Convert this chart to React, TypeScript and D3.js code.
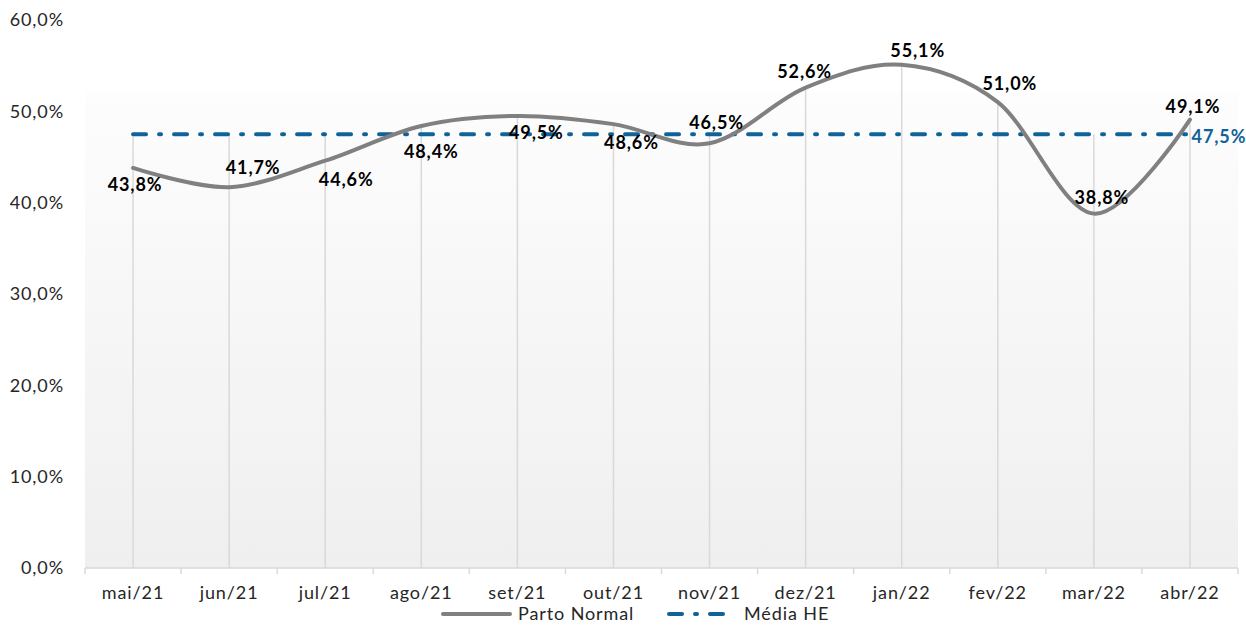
import * as d3 from "d3";

const months = ["mai/21", "jun/21", "jul/21", "ago/21", "set/21", "out/21", "nov/21", "dez/21", "jan/22", "fev/22", "mar/22", "abr/22"];
const partoNormal = [43.8, 41.7, 44.6, 48.4, 49.5, 48.6, 46.5, 52.6, 55.1, 51.0, 38.8, 49.1];
const mediaHE = 47.5;
const yTicks = [0, 10, 20, 30, 40, 50, 60];
// label offsets (dx, dy) relative to each point
const labelOffsets: [number, number][] = [
  [2, 17], [24, -19], [21, 19], [10, 26], [19, 17], [18, 19],
  [7, -21], [-1, -16], [16, -14], [12, -19], [8, -16], [3, -13],
];

const W = 1246;
const H = 625;
const margin = { left: 85, right: 8, top: 20, bottom: 57 };
const FONT = "Lato, 'Open Sans', sans-serif";
const FS = 18;
const LS = 0.9;
const BLUE = "#0f6399";
const GRAY_LINE = "#808080";
const TXT = "#262626";

const fmt = (v: number) => v.toFixed(1).replace(".", ",") + "%";

export default function App() {
  const x = d3.scalePoint<string>()
    .domain(months)
    .range([margin.left, W - margin.right])
    .padding(0.5);
  const step = x.step();
  const y = d3.scaleLinear().domain([0, 60]).range([H - margin.bottom, margin.top]);
  const y0 = y(0);

  const line = d3.line<number>()
    .x((_, i) => x(months[i])!)
    .y((d) => y(d))
    .curve(d3.curveCatmullRom.alpha(0));

  const plotLeft = margin.left;
  const plotRight = W - margin.right;
  const textProps = { fontFamily: FONT, fontSize: FS, letterSpacing: LS };

  return (
    <svg width={W} height={H} style={{ position: "absolute", left: 0, top: 0, background: "#fff" }}>
      <defs>
        <linearGradient id="bg" x1="0" y1="0" x2="0" y2="1">
          <stop offset="0" stopColor="#fdfdfd" />
          <stop offset="1" stopColor="#efefef" />
        </linearGradient>
      </defs>
      <rect x={plotLeft} y={y(52)} width={plotRight - plotLeft} height={y0 - y(52)} fill="url(#bg)" />

      {/* drop lines */}
      {partoNormal.map((v, i) => (
        <line key={"d" + i} x1={x(months[i])} x2={x(months[i])} y1={y(Math.max(v, mediaHE))} y2={y0}
          stroke="#d9d9d9" strokeWidth={1.5} />
      ))}

      {/* x axis */}
      <line x1={plotLeft} x2={plotRight} y1={y0} y2={y0} stroke="#d9d9d9" strokeWidth={1.5} />
      {d3.range(months.length + 1).map((i) => (
        <line key={"t" + i} x1={plotLeft + i * step} x2={plotLeft + i * step} y1={y0} y2={y0 + 6}
          stroke="#d9d9d9" strokeWidth={1.5} />
      ))}
      {months.map((m) => (
        <text key={m} x={x(m)} y={y0 + 31} textAnchor="middle" {...textProps} fill={TXT}>{m}</text>
      ))}

      {/* y axis labels */}
      {yTicks.map((t) => (
        <text key={t} x={64} y={y(t)} dy="0.35em" textAnchor="end" {...textProps} fill={TXT}>
          {fmt(t)}
        </text>
      ))}

      {/* media line */}
      <line x1={x(months[0])} x2={x(months[months.length - 1])} y1={y(mediaHE)} y2={y(mediaHE)}
        stroke={BLUE} strokeWidth={4} strokeDasharray="13 13 2 13" strokeLinecap="round" />

      {/* series */}
      <path d={line(partoNormal) ?? ""} fill="none" stroke={GRAY_LINE} strokeWidth={4} strokeLinecap="round" />

      {/* data labels */}
      {partoNormal.map((v, i) => (
        <text key={"l" + i} x={x(months[i])! + labelOffsets[i][0]} y={y(v) + labelOffsets[i][1]} dy="0.35em"
          textAnchor="middle" {...textProps} fontWeight="bold" fill="#000">
          {fmt(v)}
        </text>
      ))}
      <text x={x(months[months.length - 1])! + 29} y={y(mediaHE) + 3} dy="0.35em" textAnchor="middle"
        {...textProps} fontWeight="bold" fill={BLUE}>
        {fmt(mediaHE)}
      </text>

      {/* legend */}
      <g transform={`translate(0, ${H - 11})`}>
        <line x1={443} x2={510} y1={0} y2={0} stroke={GRAY_LINE} strokeWidth={4} strokeLinecap="round" />
        <text x={518} y={0} dy="0.35em" {...textProps} fill={TXT}>Parto Normal</text>
        <line x1={669} x2={727} y1={0} y2={0} stroke={BLUE} strokeWidth={4} strokeDasharray="13 13 2 13" strokeLinecap="round" />
        <text x={744} y={0} dy="0.35em" {...textProps} fill={TXT}>Média HE</text>
      </g>
    </svg>
  );
}
